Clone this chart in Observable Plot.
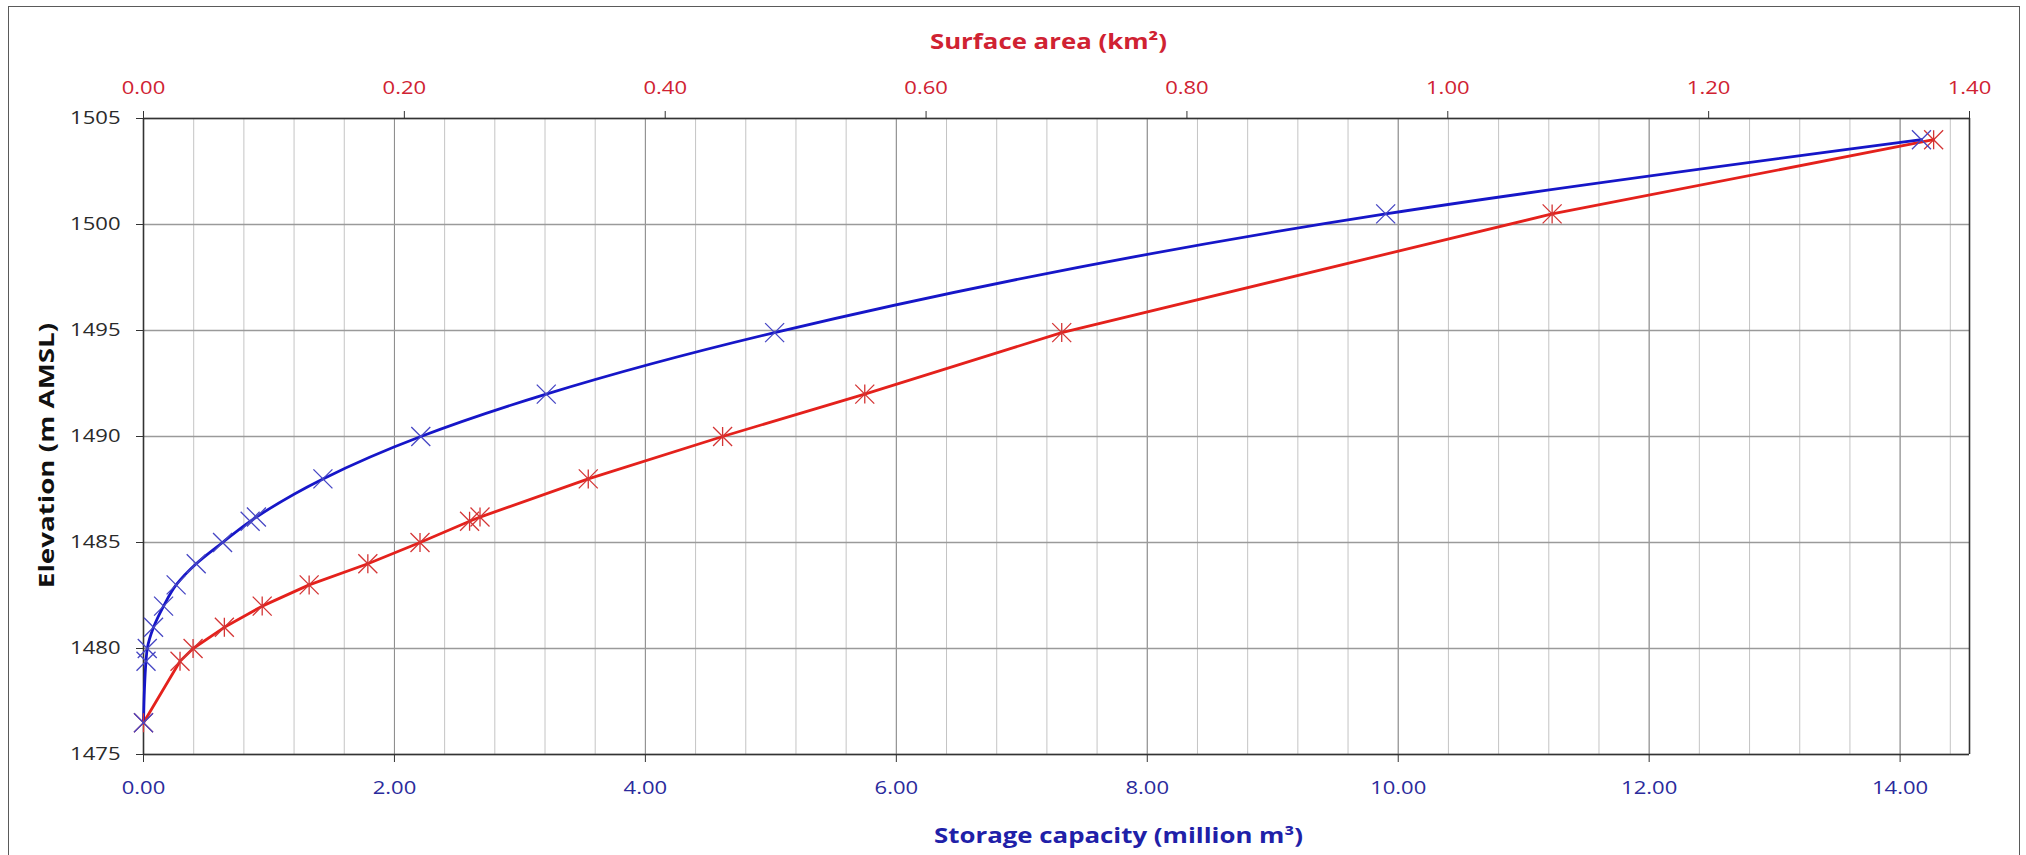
<!DOCTYPE html>
<html>
<head>
<meta charset="utf-8">
<script src="https://cdn.jsdelivr.net/npm/d3@7"></script>
<script src="https://cdn.jsdelivr.net/npm/@observablehq/plot@0.6"></script>
<style>
  html, body { margin: 0; padding: 0; background: #fff; overflow: hidden; }
  #wrap { position: relative; width: 2026px; height: 855px; }
  #border { position: absolute; left: 8px; top: 6px; width: 2010px; height: 900px;
            border: 1.5px solid #5a5a5a; pointer-events: none; z-index: 2; }
</style>
</head>
<body>
<div id="wrap"><div id="border"></div></div>
<script>
// ---- data ----
const elevation = [1476.5, 1479.4, 1480.0, 1481, 1482, 1483, 1484, 1485, 1486.0, 1486.2, 1488, 1490, 1492, 1494.9, 1500.5, 1504];
const storageCapacity = [0, 0.02, 0.03, 0.08, 0.16, 0.26, 0.42, 0.63, 0.85, 0.90, 1.43, 2.21, 3.21, 5.03, 9.90, 14.17]; // million m3
const surfaceArea = [0, 0.028, 0.038, 0.062, 0.091, 0.127, 0.172, 0.212, 0.250, 0.258, 0.341, 0.444, 0.553, 0.704, 1.080, 1.3725]; // km2

const storageTicks = [0, 2, 4, 6, 8, 10, 12, 14];
const areaTicks = [0, 0.2, 0.4, 0.6, 0.8, 1.0, 1.2, 1.4];
const elevationTicks = [1475, 1480, 1485, 1490, 1495, 1500, 1505];

const storageMax = 14.553;   // primary (bottom) axis maximum
const areaMax = 1.4;         // secondary (top) axis maximum
const K = storageMax / areaMax; // secondary -> primary axis conversion

const titleTop = "Surface area (km²)";
const titleBottom = "Storage capacity (million m³)";
const titleLeft = "Elevation (m AMSL)";

const storageData = elevation.map((e, i) => ({elev: e, storage: storageCapacity[i]}));
const areaData = elevation.map((e, i) => ({elev: e, area: surfaceArea[i]}));

const minorGrid = d3.range(0, storageMax, 0.4);

const BLUE = "#1616c8", BLUE_MARK = "#4646c4", BLUE_TEXT = "#2a2a9c";
const RED = "#e4211c", RED_MARK = "#d43535", RED_TEXT = "#d02232";

const xSym = {
  draw(ctx, size) {
    const r = Math.sqrt(size / Math.PI);
    ctx.moveTo(-r, -r); ctx.lineTo(r, r);
    ctx.moveTo(r, -r); ctx.lineTo(-r, r);
  }
};
const starSym = {
  draw(ctx, size) {
    const r = Math.sqrt(size / Math.PI);
    ctx.moveTo(-r, -r); ctx.lineTo(r, r);
    ctx.moveTo(r, -r); ctx.lineTo(-r, r);
    ctx.moveTo(0, -r); ctx.lineTo(0, r);
  }
};

const chart = Plot.plot({
  width: 2026,
  height: 855,
  marginLeft: 143,
  marginRight: 57,
  marginTop: 118,
  marginBottom: 101,
  style: {fontFamily: "'Open Sans', sans-serif", fontSize: "17.5px", background: "transparent", overflow: "visible"},
  x: {domain: [0, storageMax], axis: null},
  y: {domain: [1475, 1505], axis: null},
  marks: [
    Plot.ruleX(minorGrid, {stroke: "#c4c4c4", strokeWidth: 1}),
    Plot.ruleX(storageTicks, {stroke: "#8c8c8c", strokeWidth: 1}),
    Plot.ruleY(elevationTicks, {stroke: "#9a9a9a", strokeWidth: 1.4}),
    // plot-area border lines
    Plot.ruleX([0, storageMax], {stroke: "#333", strokeWidth: 1.6}),
    Plot.ruleY([1475, 1505], {stroke: "#333", strokeWidth: 1.6}),
    // axes
    Plot.axisX(storageTicks, {anchor: "bottom", tickSize: 8, tickPadding: 19, stroke: "#333",
      fill: BLUE_TEXT, fontSize: 17.5, tickFormat: d => d.toFixed(2), label: null}),
    Plot.axisX(areaTicks.map(v => v * K), {anchor: "top", tickSize: 8, tickPadding: 17, stroke: "#333",
      fill: RED_TEXT, fontSize: 17.5, tickFormat: d => (d / K).toFixed(2), label: null}),
    Plot.axisY(elevationTicks, {anchor: "left", tickSize: 7, tickPadding: 16, stroke: "#333",
      fill: "#2a2a2a", fontSize: 17.5, tickFormat: d => String(d), label: null}),
    // series
    Plot.line(areaData, {x: d => d.area * K, y: "elev", stroke: RED, strokeWidth: 2.8}),
    Plot.line(storageData, {x: "storage", y: "elev", stroke: BLUE, strokeWidth: 2.8, curve: "monotone-y"}),
    Plot.dot(areaData, {x: d => d.area * K, y: "elev", symbol: starSym, r: 9.5, stroke: RED_MARK, strokeWidth: 1.3, fill: "none"}),
    Plot.dot(storageData, {x: "storage", y: "elev", symbol: xSym, r: 9.5, stroke: BLUE_MARK, strokeWidth: 1.3, fill: "none"}),
    // axis titles
    Plot.text([titleTop], {frameAnchor: "top", dy: -84, dx: -8, fill: RED_TEXT, fontWeight: "bold", fontSize: 20.5}),
    Plot.text([titleBottom], {frameAnchor: "bottom", dy: 88, dx: 62, fill: "#2020a8", fontWeight: "bold", fontSize: 20.5}),
    Plot.text([titleLeft], {frameAnchor: "left", textAnchor: "middle", dx: -97, dy: 19, rotate: -90, fill: "#111", fontWeight: "bold", fontSize: 22})
  ]
});
document.getElementById("wrap").appendChild(chart);
chart.style.position = "absolute";
chart.style.left = "0px";
chart.style.top = "0px";

// the reference was drawn with a stretched font: widen the glyphs along the text
chart.querySelectorAll("text").forEach(t => {
  const tr = t.getAttribute("transform");
  if (!tr) return;
  t.setAttribute("transform", tr + " scale(1.26,1)");
});
</script>
</body>
</html>
